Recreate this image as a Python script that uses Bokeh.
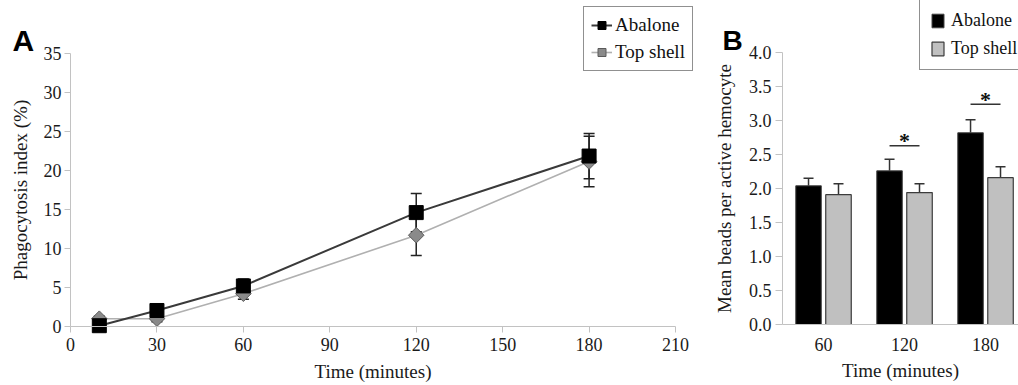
import numpy as np
from bokeh.plotting import figure
from bokeh.models import (ColumnDataSource, Range1d, FixedTicker, Whisker, TeeHead,
                          Legend, LegendItem, Label, NumeralTickFormatter)
from bokeh.layouts import row
from bokeh.transform import dodge
from bokeh.embed import file_html
from bokeh.resources import INLINE
from bokeh.core.properties import value

# ---------------- Panel A data ----------------
times_a = [10, 30, 60, 120, 180]
abalone_index = [0.1, 2.05, 5.2, 14.6, 21.85]
abalone_index_err = [0.3, 0.4, 0.9, 2.45, 2.9]
topshell_index = [1.0, 1.0, 4.2, 11.7, 21.15]
topshell_index_err = [0.3, 0.4, 0.7, 2.6, 3.25]
ticks_a_x = [0, 30, 60, 90, 120, 150, 180, 210]
ticks_a_y = [0, 5, 10, 15, 20, 25, 30, 35]

# ---------------- Panel B data ----------------
time_labels_b = ["60", "120", "180"]
abalone_beads = [2.04, 2.26, 2.82]
abalone_beads_err = [0.11, 0.17, 0.19]
topshell_beads = [1.91, 1.94, 2.16]
topshell_beads_err = [0.16, 0.13, 0.16]
ticks_b_y = [0.0, 0.5, 1.0, 1.5, 2.0, 2.5, 3.0, 3.5, 4.0]
sig_group_index = [2, 3]
sig_heights = [2.63, 3.24]

SERIF = "Liberation Serif"
SANS = "Liberation Sans"
AXIS_GREY = "#c2c2c2"
H = 382


def style(p, y_axis_at):
    p.xgrid.visible = False
    p.ygrid.visible = False
    p.outline_line_color = None
    p.background_fill_color = "white"
    p.border_fill_color = "white"
    p.min_border_left = 0
    p.min_border_right = 0
    p.min_border_top = 0
    p.min_border_bottom = 0
    p.axis.axis_line_color = AXIS_GREY
    p.axis.major_tick_line_color = AXIS_GREY
    p.axis.minor_tick_line_color = None
    p.axis.major_tick_in = 0
    p.axis.major_tick_out = 6
    p.axis.major_label_text_font = SERIF
    p.axis.major_label_text_font_size = "18px"
    p.axis.major_label_text_color = "#1a1a1a"
    p.axis.axis_label_text_font = SERIF
    p.axis.axis_label_text_font_size = "19px"
    p.axis.axis_label_text_font_style = "normal"
    p.axis.axis_label_text_color = "#1a1a1a"
    p.xaxis.fixed_location = 0
    p.yaxis.fixed_location = y_axis_at


# ================= Panel A =================
pa = figure(width=700, height=H, output_backend="svg", toolbar_location=None,
            x_range=Range1d(-24.30, 218.67), y_range=Range1d(-7.18, 41.79))
style(pa, 0)
pa.xaxis.ticker = FixedTicker(ticks=ticks_a_x)
pa.yaxis.ticker = FixedTicker(ticks=ticks_a_y)
pa.xaxis.bounds = (ticks_a_x[0], ticks_a_x[-1])
pa.yaxis.bounds = (ticks_a_y[0], ticks_a_y[-1])
pa.xaxis.axis_label = "Time (minutes)"
pa.yaxis.axis_label = "Phagocytosis index (%)"
pa.xaxis.major_label_standoff = 6
pa.yaxis.major_label_standoff = 3
pa.xaxis.axis_label_standoff = 6
pa.yaxis.axis_label_standoff = 10

src_a = ColumnDataSource(dict(
    t=times_a,
    ab=abalone_index,
    ab_lo=[v - e for v, e in zip(abalone_index, abalone_index_err)],
    ab_hi=[v + e for v, e in zip(abalone_index, abalone_index_err)],
    ts=topshell_index,
    ts_lo=[v - e for v, e in zip(topshell_index, topshell_index_err)],
    ts_hi=[v + e for v, e in zip(topshell_index, topshell_index_err)],
))

ts_line = pa.line("t", "ts", source=src_a, line_color="#b0b0b0", line_width=1.6)
ab_line = pa.line("t", "ab", source=src_a, line_color="#3a3a3a", line_width=2)
ts_mark = pa.scatter("t", "ts", source=src_a, marker="square", angle=np.pi / 4, size=11,
                     fill_color="#8a8a8a", line_color="#5a5a5a", line_width=1)
ab_mark = pa.scatter("t", "ab", source=src_a, marker="square", size=14,
                     fill_color="black", line_color="black")

for lo, hi in (("ab_lo", "ab_hi"), ("ts_lo", "ts_hi")):
    w = Whisker(base="t", lower=lo, upper=hi, source=src_a, line_color="#222222", line_width=1.5,
                upper_head=TeeHead(size=11, line_color="#222222", line_width=1.5),
                lower_head=TeeHead(size=11, line_color="#222222", line_width=1.5))
    pa.add_layout(w)

leg_a = Legend(items=[LegendItem(label="Abalone", renderers=[ab_line, ab_mark]),
                      LegendItem(label="Top shell", renderers=[ts_line, ts_mark])],
               location=(583, H - 71), border_line_color="#222222", border_line_width=1,
               background_fill_alpha=1, label_text_font=SERIF, label_text_font_size="19px",
               label_text_color="#111111",
               glyph_width=21, glyph_height=20, label_standoff=3, padding=7, spacing=5, margin=0)
pa.add_layout(leg_a)

pa.add_layout(Label(x=-20.1, y=36.67, text="A", text_font=SANS, text_font_style="bold",
                    text_font_size="30px", text_color="black", text_baseline="alphabetic"))

# ================= Panel B =================
group_x = list(range(1, len(time_labels_b) + 1))
pb = figure(width=318, height=H, output_backend="svg", toolbar_location=None,
            x_range=Range1d(-0.5185, 3.407), y_range=Range1d(-0.853, 4.765))
style(pb, 0.494)
pb.xaxis.ticker = FixedTicker(ticks=group_x)
pb.xaxis.major_label_overrides = {g: lab for g, lab in zip(group_x, time_labels_b)}
pb.xaxis.major_tick_out = 0
pb.xaxis.major_tick_line_color = None
pb.xaxis.bounds = (0.494, 3.432)
pb.yaxis.ticker = FixedTicker(ticks=ticks_b_y)
pb.yaxis.formatter = NumeralTickFormatter(format="0.0")
pb.yaxis.bounds = (ticks_b_y[0], ticks_b_y[-1])
pb.yaxis.major_tick_out = 7
pb.xaxis.axis_label = "Time (minutes)"
pb.yaxis.axis_label = "Mean beads per active hemocyte"
pb.xaxis.major_label_standoff = 14
pb.yaxis.major_label_standoff = 4
pb.xaxis.axis_label_standoff = 5
pb.yaxis.axis_label_standoff = 11

src_b = ColumnDataSource(dict(
    x=group_x,
    ab=abalone_beads,
    ab_hi=[v + e for v, e in zip(abalone_beads, abalone_beads_err)],
    ts=topshell_beads,
    ts_hi=[v + e for v, e in zip(topshell_beads, topshell_beads_err)],
))

ab_bar = pb.vbar(x=dodge("x", -0.185, range=pb.x_range), top="ab", width=0.315, source=src_b,
                 fill_color="black", line_color="#444444", line_width=1)
ts_bar = pb.vbar(x=dodge("x", 0.185, range=pb.x_range), top="ts", width=0.315, source=src_b,
                 fill_color="#c0c0c0", line_color="#3c3c3c", line_width=1.2)

for off, base, hi in ((-0.185, "ab", "ab_hi"), (0.185, "ts", "ts_hi")):
    w = Whisker(base=dodge("x", off, range=pb.x_range), lower=base, upper=hi, source=src_b,
                line_color="#333333", line_width=1.5, lower_head=None,
                upper_head=TeeHead(size=10, line_color="#333333", line_width=1.5))
    pb.add_layout(w)

src_sig = ColumnDataSource(dict(
    x0=[g - 0.185 for g in sig_group_index],
    x1=[g + 0.185 for g in sig_group_index],
    xc=sig_group_index,
    y=sig_heights,
    star=["*"] * len(sig_group_index),
))
pb.segment(x0="x0", x1="x1", y0="y", y1="y", source=src_sig, line_color="#333333", line_width=1.5)
pb.text(x="xc", y="y", text="star", source=src_sig, text_font=value(SERIF), text_font_style="bold",
        text_font_size="22px", text_align="center", text_baseline="alphabetic", y_offset=-5,
        text_color="#111111")

leg_b = Legend(items=[LegendItem(label="Abalone", renderers=[ab_bar]),
                      LegendItem(label="Top shell", renderers=[ts_bar])],
               location=(219, H - 70), border_line_color="#222222", border_line_width=1,
               background_fill_alpha=1, label_text_font=SERIF, label_text_font_size="18px",
               label_text_color="#111111",
               glyph_width=15, glyph_height=17, label_standoff=6, padding=10, spacing=7, margin=0)
pb.add_layout(leg_b)

pb.add_layout(Label(x=-0.247, y=4.176, text="B", text_font=SANS, text_font_style="bold",
                    text_font_size="28px", text_color="black", text_baseline="alphabetic"))

layout = row(pa, pb, spacing=0)
open("out.html", "w").write(file_html(layout, INLINE))
